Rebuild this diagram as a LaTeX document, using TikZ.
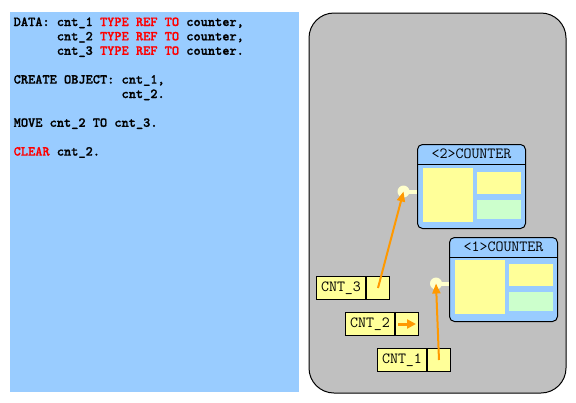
\documentclass[tikz,border=0pt]{standalone}
\usepackage{fontspec}
\usetikzlibrary{arrows.meta}
\newfontfamily\codefont{lmmonolt10-bold.otf}[FakeBold=1.2]
\definecolor{panelblue}{HTML}{99CCFF}
\definecolor{panelgray}{HTML}{C0C0C0}
\definecolor{objyellow}{HTML}{FFFF99}
\definecolor{objgreen}{HTML}{CCFFCC}
\definecolor{paleyellow}{HTML}{FFFFCC}
\definecolor{ptrorange}{HTML}{FF9900}
\definecolor{codered}{HTML}{FF0000}
\tikzset{
  codeline/.style={anchor=base west, inner sep=0pt, font=\codefont\fontsize{13.7}{16}\selectfont\frenchspacing},
  objbox/.style={draw, line width=1pt, fill=panelblue, rounded corners=5pt, minimum width=108pt, minimum height=84pt, anchor=north west, inner sep=0pt},
  objhead/.style={anchor=north, minimum width=108pt, minimum height=20pt, inner sep=0pt, font=\ttfamily\fontsize{15.5}{18}\selectfont},
  slotbig/.style={fill=objyellow, minimum width=50pt, minimum height=54pt, anchor=north west, inner sep=0pt},
  slotsmall/.style={fill=objyellow, minimum width=44pt, minimum height=22pt, anchor=north west, inner sep=0pt},
  slotgreen/.style={fill=objgreen, minimum width=44pt, minimum height=19pt, anchor=north west, inner sep=0pt},
  refname/.style={draw, line width=1pt, fill=objyellow, minimum width=49pt, minimum height=23pt, anchor=north west, inner sep=0pt, font=\ttfamily\fontsize{15.5}{18}\selectfont},
  refcell/.style={draw, line width=1pt, fill=objyellow, minimum width=23pt, minimum height=23pt, anchor=west, inner sep=0pt},
  anchorball/.style={circle, fill=paleyellow, minimum size=12pt, inner sep=0pt},
  anchorlink/.style={paleyellow, line width=4pt},
  ptrarrow/.style={ptrorange, line width=2pt, -{Triangle[length=10pt,width=8pt]}},
  ptrsmall/.style={ptrorange, line width=3pt, -{Triangle[length=9pt,width=9pt]}}
}
\begin{document}
\begin{tikzpicture}[x=1pt,y=-1pt]
\useasboundingbox (0,0) rectangle (576,402);
\fill[white] (0,0) rectangle (576,402);
% code panel
\node[fill=panelblue, minimum width=289pt, minimum height=380pt, anchor=north west, inner sep=0pt] (code) at (10,12) {};
\node[codeline] (l1) at (13.5,26) {DATA: cnt\_1 \textcolor{codered}{TYPE REF TO} counter,};
\node[codeline] (l2) at (13.5,40.4) {\phantom{DATA:~}cnt\_2 \textcolor{codered}{TYPE REF TO} counter,};
\node[codeline] (l3) at (13.5,54.8) {\phantom{DATA:~}cnt\_3 \textcolor{codered}{TYPE REF TO} counter.};
\node[codeline] (l4) at (13.5,83.6) {CREATE OBJECT: cnt\_1,};
\node[codeline] (l5) at (13.5,98) {\phantom{CREATE OBJECT:~}cnt\_2.};
\node[codeline] (l6) at (13.5,126.8) {MOVE cnt\_2 TO cnt\_3.};
\node[codeline] (l7) at (13.5,155.6) {\textcolor{codered}{CLEAR} cnt\_2.};
% heap panel
\node[draw, line width=1pt, fill=panelgray, rounded corners=25pt, minimum width=257pt, minimum height=380pt, anchor=north west, inner sep=0pt] (heap) at (308.5,12.5) {};
% object 2
\node[anchorball] (r2) at (403.5,191.5) {};
\node[objbox] (o2) at (417,144) {};
\draw[anchorlink] (r2.center) -- ([xshift=-0.5pt]o2.west |- r2.center);
\node[objhead] (o2h) at (o2.north) {<2>COUNTER};
\draw[line width=1pt] (o2h.south west) -- (o2h.south east);
\node[slotbig] (o2a) at ([shift={(6,24)}]o2.north west) {};
\node[slotsmall] (o2b) at ([shift={(60,28)}]o2.north west) {};
\node[slotgreen] (o2c) at ([shift={(60,56)}]o2.north west) {};
% object 1
\node[anchorball] (r1) at (436,283.5) {};
\node[objbox] (o1) at (449,237) {};
\draw[anchorlink] (r1.center) -- ([xshift=-0.5pt]o1.west |- r1.center);
\node[objhead] (o1h) at (o1.north) {<1>COUNTER};
\draw[line width=1pt] (o1h.south west) -- (o1h.south east);
\node[slotbig] (o1a) at ([shift={(6,23)}]o1.north west) {};
\node[slotsmall] (o1b) at ([shift={(60,27)}]o1.north west) {};
\node[slotgreen] (o1c) at ([shift={(60,55)}]o1.north west) {};
% reference variables
\node[refname] (c3) at (316,276) {CNT\_3};
\node[refcell] (c3p) at (c3.east) {};
\node[refname] (c2) at (345,312) {CNT\_2};
\node[refcell] (c2p) at (c2.east) {};
\node[refname] (c1) at (377,348) {CNT\_1};
\node[refcell] (c1p) at (c1.east) {};
% pointers
\draw[ptrarrow] (c3p.center) -- (r2.center);
\draw[ptrarrow] (c1p.center) -- (r1.center);
\draw[ptrsmall] ([xshift=3pt]c2p.west) -- ([xshift=-3pt]c2p.east);
\end{tikzpicture}
\end{document}
